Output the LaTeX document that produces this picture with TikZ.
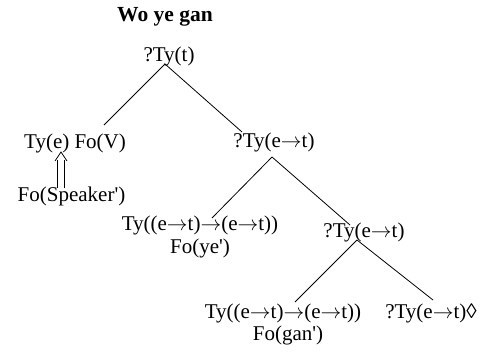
\documentclass[tikz,border=0pt]{standalone}
\usepackage{fontspec}
\setmainfont{Liberation Serif}
\newcommand\myarr{\ensuremath{\mathord{\rightarrow}}}
\newcommand\q{\textquotesingle}
\begin{document}
\begin{tikzpicture}[x=1pt,y=-1pt,
  lbl/.style={inner sep=0pt,font=\fontsize{21}{24}\selectfont},
  ttl/.style={inner sep=0pt,font=\fontsize{21.5}{24}\selectfont\bfseries},
  edge/.style={draw=black,line width=0.8pt},
  dline/.style={draw=black,line width=0.8pt}]
\useasboundingbox (0,0) rectangle (481,351);
\node[ttl] (title) at (165,17) {Wo ye gan};
\node[lbl] (root) at (169,56) {?Ty(t)};
\node[lbl] (tye) at (75,143) {Ty(e) Fo(V)};
\node[lbl] (spk) at (71.5,196) {Fo(Speaker\q)};
\node[lbl] (n1) at (274,142) {?Ty(e\myarr t)};
\node[lbl] (n2) at (200,225) {Ty((e\myarr t)\myarr(e\myarr t))};
\node[lbl] (fo1) at (200,248) {Fo(ye\q)};
\node[lbl] (n3) at (364,232) {?Ty(e\myarr t)};
\node[lbl] (n4) at (283,313) {Ty((e\myarr t)\myarr(e\myarr t))};
\node[lbl] (fo2) at (288,335) {Fo(gan\q)};
\node[lbl] (n5) at (431,313) {?Ty(e\myarr t)◊};
\draw[edge] ([shift={(-4,8)}]root.center) -- ([shift={(29,-18)}]tye.center);
\draw[edge] ([shift={(-4,8)}]root.center) -- ([shift={(-32,-10)}]n1.center);
\draw[edge] ([shift={(-2,15)}]n1.center) -- ([shift={(12,-7)}]n2.center);
\draw[edge] ([shift={(-2,15)}]n1.center) -- ([shift={(-14,-7)}]n3.center);
\draw[edge] ([shift={(-7,8)}]n3.center) -- ([shift={(12,-11)}]n4.center);
\draw[edge] ([shift={(-7,8)}]n3.center) -- ([shift={(2,-13)}]n5.center);
% implication arrow from Fo(Speaker') up to Ty(e)
\draw[dline] ([shift={(-14,-8)}]spk.center) -- ([shift={(-17.5,17)}]tye.center);
\draw[dline] ([shift={(-7.5,-8)}]spk.center) -- ([shift={(-11,17)}]tye.center);
\draw[dline] ([shift={(-20,18)}]tye.center) .. controls ([shift={(-17,13)}]tye.center) .. ([shift={(-14,9)}]tye.center)
  .. controls ([shift={(-11,13)}]tye.center) .. ([shift={(-8,18)}]tye.center);
\end{tikzpicture}
\end{document}
